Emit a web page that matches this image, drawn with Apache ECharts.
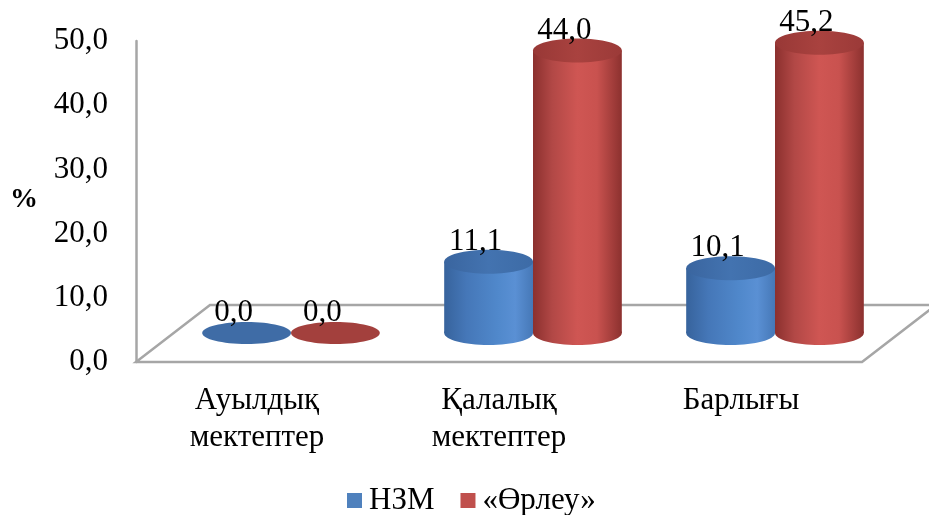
<!DOCTYPE html>
<html>
<head>
<meta charset="utf-8">
<script src="https://cdn.jsdelivr.net/npm/echarts@6/dist/echarts.min.js"></script>
<style>
  html, body { margin: 0; padding: 0; background: #fff; }
  #chart { width: 929px; height: 515px; }
</style>
</head>
<body>
<div id="chart"></div>
<script>
// Categories (school types) and the two series of percentages
const categories = ['Ауылдық\nмектептер', 'Қалалық\nмектептер', 'Барлығы'];
const seriesNames = ['НЗМ', '«Өрлеу»'];
const nzmValues = [0.0, 11.1, 10.1];
const orleuValues = [0.0, 44.0, 45.2];
const yTicks = [0, 10, 20, 30, 40, 50];

const FONT = '"Liberation Serif", "Times New Roman", serif';
const fmt = v => v.toFixed(1).replace('.', ',');

// depth of the 3D floor (front edge -> back edge) and where the bars stand in it
const DEPTH = [74, -57];
const BAR_SHIFT = [34, -29];

const palette = [
  { // blue
    body: [['#37639c', 0], ['#4577b8', 0.25], ['#5088cb', 0.6], ['#5a90d4', 0.8], ['#4678b7', 1]],
    top: [['#3a659f', 0], ['#4373b0', 0.5], ['#3d6ba6', 1]],
    flat: '#3f6ca6'
  },
  { // red
    body: [['#8b302e', 0], ['#b24846', 0.22], ['#cf5653', 0.5], ['#c9524f', 0.72], ['#8c312f', 1]],
    top: [['#983836', 0], ['#a9423f', 0.5], ['#9b3a38', 1]],
    flat: '#a3403d'
  }
];

function grad(stops) {
  return {
    type: 'linear', x: 0, y: 0, x2: 1, y2: 0,
    colorStops: stops.map(s => ({ color: s[0], offset: s[1] }))
  };
}

function cylinder(params, api) {
  const si = params.seriesIndex - 1;
  const idx = api.value(0);
  const val = api.value(1);
  const band = api.size([1, 0])[0];
  const w = band * 0.367;
  const base = api.coord([idx, 0]);
  const top = api.coord([idx, val]);
  const cx = base[0] + BAR_SHIFT[0] + (si === 0 ? -w / 2 : w / 2);
  const by = base[1] + BAR_SHIFT[1];
  const ty = top[1] + BAR_SHIFT[1];
  const rx = w / 2;
  const ry = 12;
  const p = palette[si];
  const children = [];
  if (by - ty > 0.5) {
    children.push({
      type: 'ellipse',
      shape: { cx: cx, cy: by, rx: rx, ry: ry },
      style: { fill: grad(p.body) }
    });
    children.push({
      type: 'rect',
      shape: { x: cx - rx, y: ty, width: w, height: by - ty },
      style: { fill: grad(p.body) }
    });
    children.push({
      type: 'ellipse',
      shape: { cx: cx, cy: ty, rx: rx, ry: ry },
      style: { fill: grad(p.top) }
    });
  } else {
    children.push({
      type: 'ellipse',
      shape: { cx: cx, cy: by, rx: rx, ry: ry - 1 },
      style: { fill: p.flat }
    });
  }
  children.push({
    type: 'text',
    style: {
      text: fmt(val),
      x: cx - 13,
      y: ty - 20,
      align: 'center',
      verticalAlign: 'middle',
      fontFamily: FONT,
      fontSize: 31,
      fill: '#000'
    }
  });
  return { type: 'group', children: children };
}

function floor(params, api) {
  const cs = params.coordSys;
  const y0 = api.coord([0, 0])[1];
  const x0 = cs.x;
  const x1 = cs.x + cs.width;
  return {
    type: 'polygon',
    shape: {
      points: [
        [x0, y0], [x1, y0],
        [x1 + DEPTH[0], y0 + DEPTH[1]],
        [x0 + DEPTH[0], y0 + DEPTH[1]]
      ]
    },
    style: { fill: '#fff', stroke: '#a6a6a6', lineWidth: 2.5 }
  };
}

const chart = echarts.init(document.getElementById('chart'), null, { renderer: 'canvas' });

chart.setOption({
  animation: false,
  backgroundColor: '#fff',
  textStyle: { fontFamily: FONT },
  grid: { left: 136, right: 67, top: 41, bottom: 153, containLabel: false },
  legend: {
    data: seriesNames,
    left: 347,
    top: 485,
    padding: 0,
    icon: 'rect',
    itemWidth: 15,
    itemHeight: 15,
    itemGap: 26,
    textStyle: { fontFamily: FONT, fontSize: 31, color: '#000', padding: [0, 0, 0, 2] }
  },
  graphic: [{
    type: 'text',
    left: 10,
    top: 186,
    style: { text: '%', fontFamily: FONT, fontSize: 28, fontWeight: 'bold', fill: '#000' }
  }],
  xAxis: {
    type: 'category',
    data: categories,
    axisLine: { show: false },
    axisTick: { show: false },
    axisLabel: {
      interval: 0,
      margin: 20,
      fontFamily: FONT,
      fontSize: 31,
      lineHeight: 37,
      color: '#000',
      verticalAlign: 'top'
    }
  },
  yAxis: {
    type: 'value',
    min: yTicks[0],
    max: yTicks[yTicks.length - 1],
    interval: yTicks[1] - yTicks[0],
    axisLine: { show: true, lineStyle: { color: '#a6a6a6', width: 2.5 } },
    axisTick: { show: false },
    splitLine: { show: false },
    axisLabel: {
      margin: 28,
      fontFamily: FONT,
      fontSize: 31,
      color: '#000',
      formatter: v => fmt(v)
    }
  },
  series: [
    {
      type: 'custom',
      name: 'floor',
      clip: false,
      silent: true,
      renderItem: floor,
      data: [[0, 0]],
      z: 1
    },
    {
      type: 'custom',
      name: seriesNames[0],
      clip: false,
      itemStyle: { color: '#4f81bd' },
      renderItem: cylinder,
      encode: { x: 0, y: 1 },
      data: nzmValues.map((v, i) => [i, v]),
      z: 2
    },
    {
      type: 'custom',
      name: seriesNames[1],
      clip: false,
      itemStyle: { color: '#c0504d' },
      renderItem: cylinder,
      encode: { x: 0, y: 1 },
      data: orleuValues.map((v, i) => [i, v]),
      z: 3
    }
  ]
});
</script>
</body>
</html>
